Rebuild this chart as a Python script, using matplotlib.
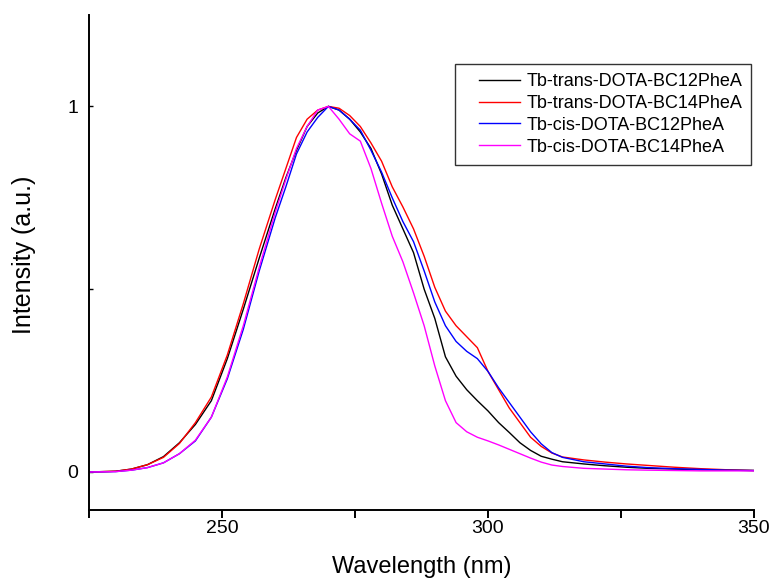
import matplotlib
matplotlib.use("Agg")
import matplotlib.pyplot as plt
import numpy as np
from matplotlib.legend_handler import HandlerLine2D

plt.rcParams['font.family'] = ['Liberation Sans', 'DejaVu Sans']

wavelength = [225, 230, 233, 236, 239, 242, 245, 248, 251, 254, 257, 260, 262, 264, 266, 268,
              270, 272, 274, 276, 278, 280, 282, 284, 286, 288, 290, 292, 294, 296, 298, 300,
              302, 304, 306, 308, 310, 312, 314, 318, 322, 326, 330, 335, 340, 345, 350]

trans_bc12 = [0.0, 0.002, 0.008, 0.02, 0.042, 0.08, 0.13, 0.195, 0.31, 0.445, 0.585, 0.72, 0.805, 0.88, 0.945, 0.982,
              1.0, 0.99, 0.965, 0.93, 0.885, 0.815, 0.73, 0.665, 0.60, 0.50, 0.42, 0.315, 0.262, 0.225, 0.195, 0.167,
              0.135, 0.108, 0.08, 0.059, 0.043, 0.035, 0.028, 0.022, 0.017, 0.013, 0.010, 0.008, 0.006, 0.005, 0.004]

trans_bc14 = [0.0, 0.002, 0.008, 0.02, 0.04, 0.078, 0.135, 0.205, 0.32, 0.46, 0.61, 0.745, 0.83, 0.915, 0.965, 0.99,
              1.0, 0.995, 0.975, 0.945, 0.90, 0.85, 0.78, 0.725, 0.665, 0.59, 0.505, 0.44, 0.40, 0.37, 0.34, 0.275,
              0.225, 0.175, 0.135, 0.095, 0.07, 0.052, 0.041, 0.033, 0.027, 0.022, 0.018, 0.013, 0.009, 0.006, 0.004]

cis_bc12 = [0.0, 0.001, 0.005, 0.012, 0.025, 0.05, 0.085, 0.15, 0.255, 0.39, 0.55, 0.695, 0.78, 0.87, 0.93, 0.97,
            1.0, 0.99, 0.965, 0.935, 0.88, 0.82, 0.75, 0.685, 0.63, 0.55, 0.465, 0.40, 0.357, 0.33, 0.31, 0.275,
            0.23, 0.19, 0.15, 0.11, 0.077, 0.053, 0.04, 0.028, 0.022, 0.016, 0.012, 0.009, 0.007, 0.005, 0.004]

cis_bc14 = [0.0, 0.001, 0.005, 0.012, 0.025, 0.05, 0.087, 0.15, 0.26, 0.40, 0.56, 0.71, 0.80, 0.885, 0.945, 0.99,
            1.0, 0.965, 0.925, 0.905, 0.83, 0.735, 0.645, 0.575, 0.49, 0.40, 0.29, 0.195, 0.135, 0.11, 0.095, 0.085,
            0.074, 0.062, 0.05, 0.038, 0.027, 0.019, 0.015, 0.010, 0.008, 0.006, 0.005, 0.004, 0.003, 0.003, 0.003]

labels = ["Tb-trans-DOTA-BC12PheA", "Tb-trans-DOTA-BC14PheA",
          "Tb-cis-DOTA-BC12PheA", "Tb-cis-DOTA-BC14PheA"]
colors = ["#000000", "#FF0000", "#0000FF", "#FF00FF"]

x_ticks = [225, 250, 275, 300, 325, 350]
x_ticklabels = ["", "250", "", "300", "", "350"]
y_ticks = [0, 0.5, 1]
y_ticklabels = ["0", "", "1"]


class LeftPadLine(HandlerLine2D):
    def get_xdata(self, legend, xdescent, ydescent, width, height, fontsize):
        xd = np.array([-xdescent + 0.85 * fontsize, -xdescent + width])
        return xd, xd


fig = plt.figure(figsize=(7.74, 5.85), dpi=100)
ax = fig.add_axes([89/774, 1 - 510/585, (754 - 89)/774, (510 - 15)/585])

for ys, lab, c in zip([trans_bc12, trans_bc14, cis_bc12, cis_bc14], labels, colors):
    ax.plot(wavelength, ys, color=c, lw=1.0, label=lab)

ax.set_xlim(225, 350)
ax.set_ylim(-0.104, 1.25)
ax.spines['top'].set_visible(False)
ax.spines['right'].set_visible(False)
for s in ('left', 'bottom'):
    ax.spines[s].set_linewidth(1.4)

ax.set_xticks(x_ticks)
ax.set_xticklabels(x_ticklabels)
ax.set_yticks(y_ticks)
ax.set_yticklabels(y_ticklabels)
ax.tick_params(axis='x', direction='out', length=6, width=1.4, labelsize=14, pad=1)
ax.tick_params(axis='y', direction='in', length=3, width=1.0, labelsize=14, pad=7.5)

ax.set_xlabel("Wavelength (nm)", fontsize=17, labelpad=14)
ax.set_ylabel("Intensity (a.u.)", fontsize=18)
ax.yaxis.set_label_coords(-0.080, 0.515)

leg = ax.legend(loc='upper left', bbox_to_anchor=((455 - 89)/665, (510 - 64)/495),
                fontsize=13, frameon=True, fancybox=False, edgecolor='black',
                labelspacing=0.27, handlelength=3.1, handletextpad=0.35,
                borderpad=0.5, borderaxespad=0,
                handler_map={plt.Line2D: LeftPadLine()})
leg.get_frame().set_linewidth(1.0)
for l in leg.get_lines():
    l.set_linewidth(1.0)

fig.savefig("out.png", dpi=100)
